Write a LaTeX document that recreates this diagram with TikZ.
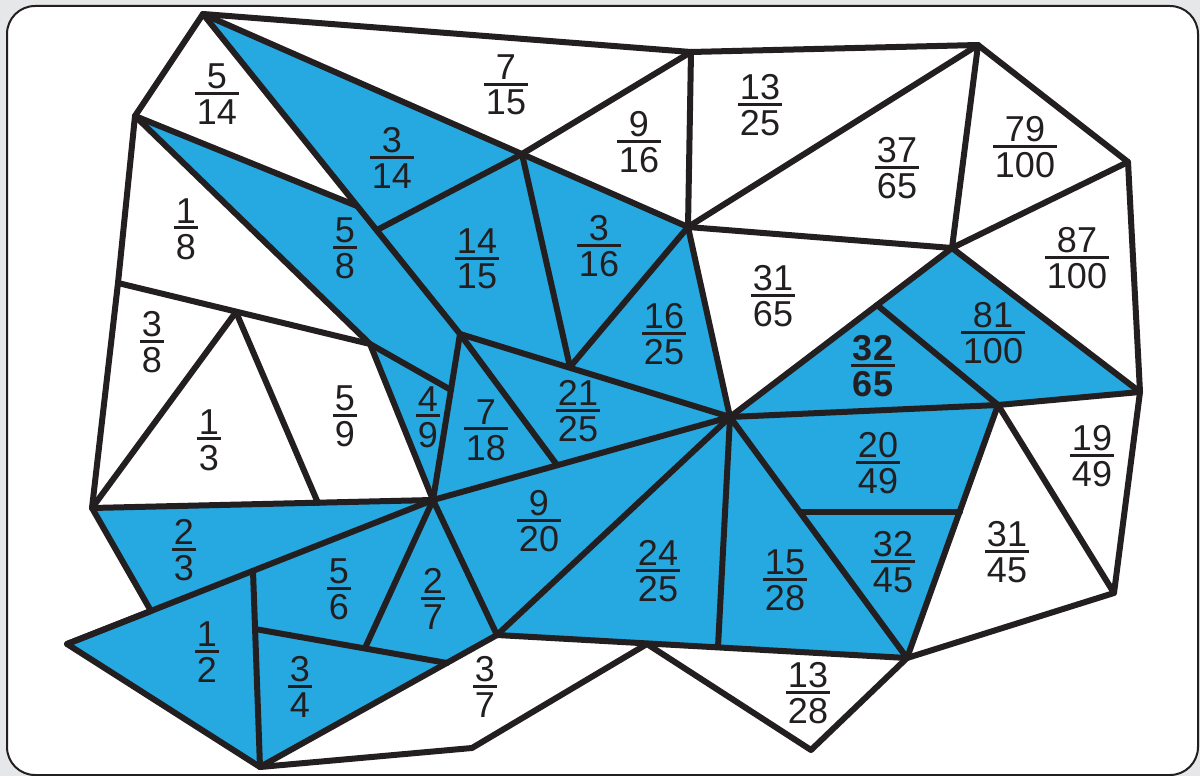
\documentclass[tikz,border=0pt]{standalone}
\usepackage{fontspec}
\setmainfont{Liberation Sans}
% stacked fraction: numerator, bar, denominator
\newcommand\fr[2]{\vbox{\offinterlineskip\halign{\hskip2pt\hfil##\hfil\hskip2pt\cr#1\cr\noalign{\kern3pt\hrule height3pt\kern4.5pt}#2\cr}}}
\begin{document}
\begin{tikzpicture}[yscale=-1, x=1pt, y=1pt, line join=round, line cap=round,
  piece/.style={fill=tileblue},
  edge/.style={draw=ink, line width=6pt},
  frac/.style={inner sep=0pt, text=ink, font=\fontsize{36}{36}\selectfont}]
% colour definitions
\definecolor{tileblue}{RGB}{38,168,224}
\definecolor{ink}{RGB}{35,31,32}
\definecolor{bggray}{RGB}{230,231,232}
% End of colour definitions
\useasboundingbox (0,0) rectangle (1200,776);
\fill[bggray] (0,0) rectangle (1200,776);
\draw[ink, line width=2pt, fill=white, rounded corners=28pt] (7,6) rectangle (1198,775);
% vertices
\coordinate (a) at (203,14);   \coordinate (b) at (135,116);  \coordinate (c) at (357,206);
\coordinate (g) at (377,230);  \coordinate (q0) at (118,283); \coordinate (r) at (370,344);
\coordinate (h) at (451,390);  \coordinate (p2) at (460,334); \coordinate (v1) at (522,154);
\coordinate (d) at (691,52);   \coordinate (v2) at (688,227); \coordinate (e) at (978,45);
\coordinate (f) at (1128,162); \coordinate (vc) at (952,248); \coordinate (gg) at (1140,392);
\coordinate (kc) at (877,305); \coordinate (y5) at (998,405); \coordinate (hh) at (1114,593);
\coordinate (i) at (907,658);  \coordinate (j) at (811,750);  \coordinate (k) at (647,644);
\coordinate (l) at (472,748);  \coordinate (m) at (260,767);  \coordinate (n) at (67,644);
\coordinate (o) at (151,611);  \coordinate (p) at (92,508);   \coordinate (s) at (433,500);
\coordinate (lt) at (236,312); \coordinate (mm) at (318,503); \coordinate (t) at (253,571);
\coordinate (u) at (255,629);  \coordinate (yv) at (365,648); \coordinate (v) at (447,663);
\coordinate (w) at (497,635);  \coordinate (x) at (718,647);  \coordinate (z) at (730,417);
\coordinate (nn) at (570,367); \coordinate (oo) at (557,465); \coordinate (pp) at (800,512);
\coordinate (qq) at (960,512);
% blue pieces
\fill[piece] (a) -- (v1) -- (g) -- cycle;
\fill[piece] (b) -- (c) -- (p2) -- (h) -- (r) -- cycle;
\fill[piece] (g) -- (v1) -- (nn) -- (p2) -- cycle;
\fill[piece] (v1) -- (v2) -- (nn) -- cycle;
\fill[piece] (v2) -- (z) -- (nn) -- cycle;
\fill[piece] (nn) -- (z) -- (oo) -- (p2) -- cycle;
\fill[piece] (p2) -- (oo) -- (s) -- cycle;
\fill[piece] (r) -- (h) -- (s) -- cycle;
\fill[piece] (p) -- (s) -- (o) -- cycle;
\fill[piece] (n) -- (t) -- (m) -- cycle;
\fill[piece] (t) -- (s) -- (yv) -- (u) -- cycle;
\fill[piece] (yv) -- (s) -- (w) -- (v) -- cycle;
\fill[piece] (u) -- (v) -- (m) -- cycle;
\fill[piece] (s) -- (z) -- (w) -- cycle;
\fill[piece] (w) -- (z) -- (x) -- cycle;
\fill[piece] (z) -- (x) -- (i) -- cycle;
\fill[piece] (pp) -- (qq) -- (i) -- cycle;
\fill[piece] (z) -- (y5) -- (qq) -- (pp) -- cycle;
\fill[piece] (z) -- (kc) -- (y5) -- cycle;
\fill[piece] (kc) -- (vc) -- (gg) -- (y5) -- cycle;
% outline
\draw[edge] (a) -- (d) -- (e) -- (f) -- (gg) -- (hh) -- (i) -- (j) -- (k) -- (l) -- (m)
  -- (n) -- (o) -- (p) -- (q0) -- (b) -- cycle;
% inner edges
\draw[edge] (a) -- (v2);
\draw[edge] (a) -- (p2);
\draw[edge] (b) -- (c);
\draw[edge] (b) -- (r);
\draw[edge] (q0) -- (r);
\draw[edge] (lt) -- (p);
\draw[edge] (lt) -- (mm);
\draw[edge] (p) -- (s);
\draw[edge] (r) -- (h);
\draw[edge] (r) -- (s);
\draw[edge] (p2) -- (s);
\draw[edge] (v1) -- (d);
\draw[edge] (d) -- (v2);
\draw[edge] (v1) -- (g);
\draw[edge] (v1) -- (nn);
\draw[edge] (v2) -- (nn);
\draw[edge] (v2) -- (z);
\draw[edge] (v2) -- (e);
\draw[edge] (v2) -- (vc);
\draw[edge] (e) -- (vc);
\draw[edge] (f) -- (vc);
\draw[edge] (vc) -- (gg);
\draw[edge] (z) -- (vc);
\draw[edge] (kc) -- (y5);
\draw[edge] (z) -- (y5) -- (gg);
\draw[edge] (y5) -- (i);
\draw[edge] (y5) -- (hh);
\draw[edge] (pp) -- (qq);
\draw[edge] (z) -- (i);
\draw[edge] (z) -- (x);
\draw[edge] (z) -- (w);
\draw[edge] (p2) -- (z);
\draw[edge] (p2) -- (oo);
\draw[edge] (s) -- (z);
\draw[edge] (s) -- (w);
\draw[edge] (s) -- (yv);
\draw[edge] (s) -- (n);
\draw[edge] (t) -- (m);
\draw[edge] (u) -- (v);
\draw[edge] (m) -- (w);
\draw[edge] (w) -- (i);
% fractions
\node[frac] (f5o14) at (217,94) {\fr{5}{14}};
\node[frac] (f7o15) at (506,85) {\fr{7}{15}};
\node[frac] (f3o14) at (392,158) {\fr{3}{14}};
\node[frac] (f9o16) at (639,142) {\fr{9}{16}};
\node[frac] (f13o25) at (760,105) {\fr{13}{25}};
\node[frac] (f37o65) at (897,168) {\fr{37}{65}};
\node[frac] (f79o100) at (1025,147) {\fr{79}{100}};
\node[frac] (f87o100) at (1077,258) {\fr{87}{100}};
\node[frac] (f1o8) at (186,229) {\fr{1}{8}};
\node[frac] (f5o8) at (345,248) {\fr{5}{8}};
\node[frac] (f14o15) at (477,259) {\fr{14}{15}};
\node[frac] (f3o16) at (599,246) {\fr{3}{16}};
\node[frac] (f31o65) at (773,296) {\fr{31}{65}};
\node[frac] (f16o25) at (664,334) {\fr{16}{25}};
\node[frac] (f81o100) at (993,333) {\fr{81}{100}};
\node[frac, font=\fontsize{36}{36}\selectfont\bfseries] (f32o65) at (873,366) {\fr{32}{65}};
\node[frac] (f3o8) at (152,342) {\fr{3}{8}};
\node[frac] (f1o3) at (209,440) {\fr{1}{3}};
\node[frac] (f5o9) at (345,416) {\fr{5}{9}};
\node[frac] (f4o9) at (428,417) {\fr{4}{9}};
\node[frac] (f7o18) at (486,430) {\fr{7}{18}};
\node[frac] (f21o25) at (578,411) {\fr{21}{25}};
\node[frac] (f20o49) at (878,463) {\fr{20}{49}};
\node[frac] (f19o49) at (1092,456) {\fr{19}{49}};
\node[frac] (f2o3) at (184,550) {\fr{2}{3}};
\node[frac] (f9o20) at (539,521) {\fr{9}{20}};
\node[frac] (f5o6) at (339,589) {\fr{5}{6}};
\node[frac] (f2o7) at (433,599) {\fr{2}{7}};
\node[frac] (f24o25) at (658,571) {\fr{24}{25}};
\node[frac] (f15o28) at (785,580) {\fr{15}{28}};
\node[frac] (f32o45) at (893,562) {\fr{32}{45}};
\node[frac] (f31o45) at (1007,552) {\fr{31}{45}};
\node[frac] (f1o2) at (207,652) {\fr{1}{2}};
\node[frac] (f3o4) at (300,687) {\fr{3}{4}};
\node[frac] (f3o7) at (485,687) {\fr{3}{7}};
\node[frac] (f13o28) at (808,693) {\fr{13}{28}};
\end{tikzpicture}
\end{document}
